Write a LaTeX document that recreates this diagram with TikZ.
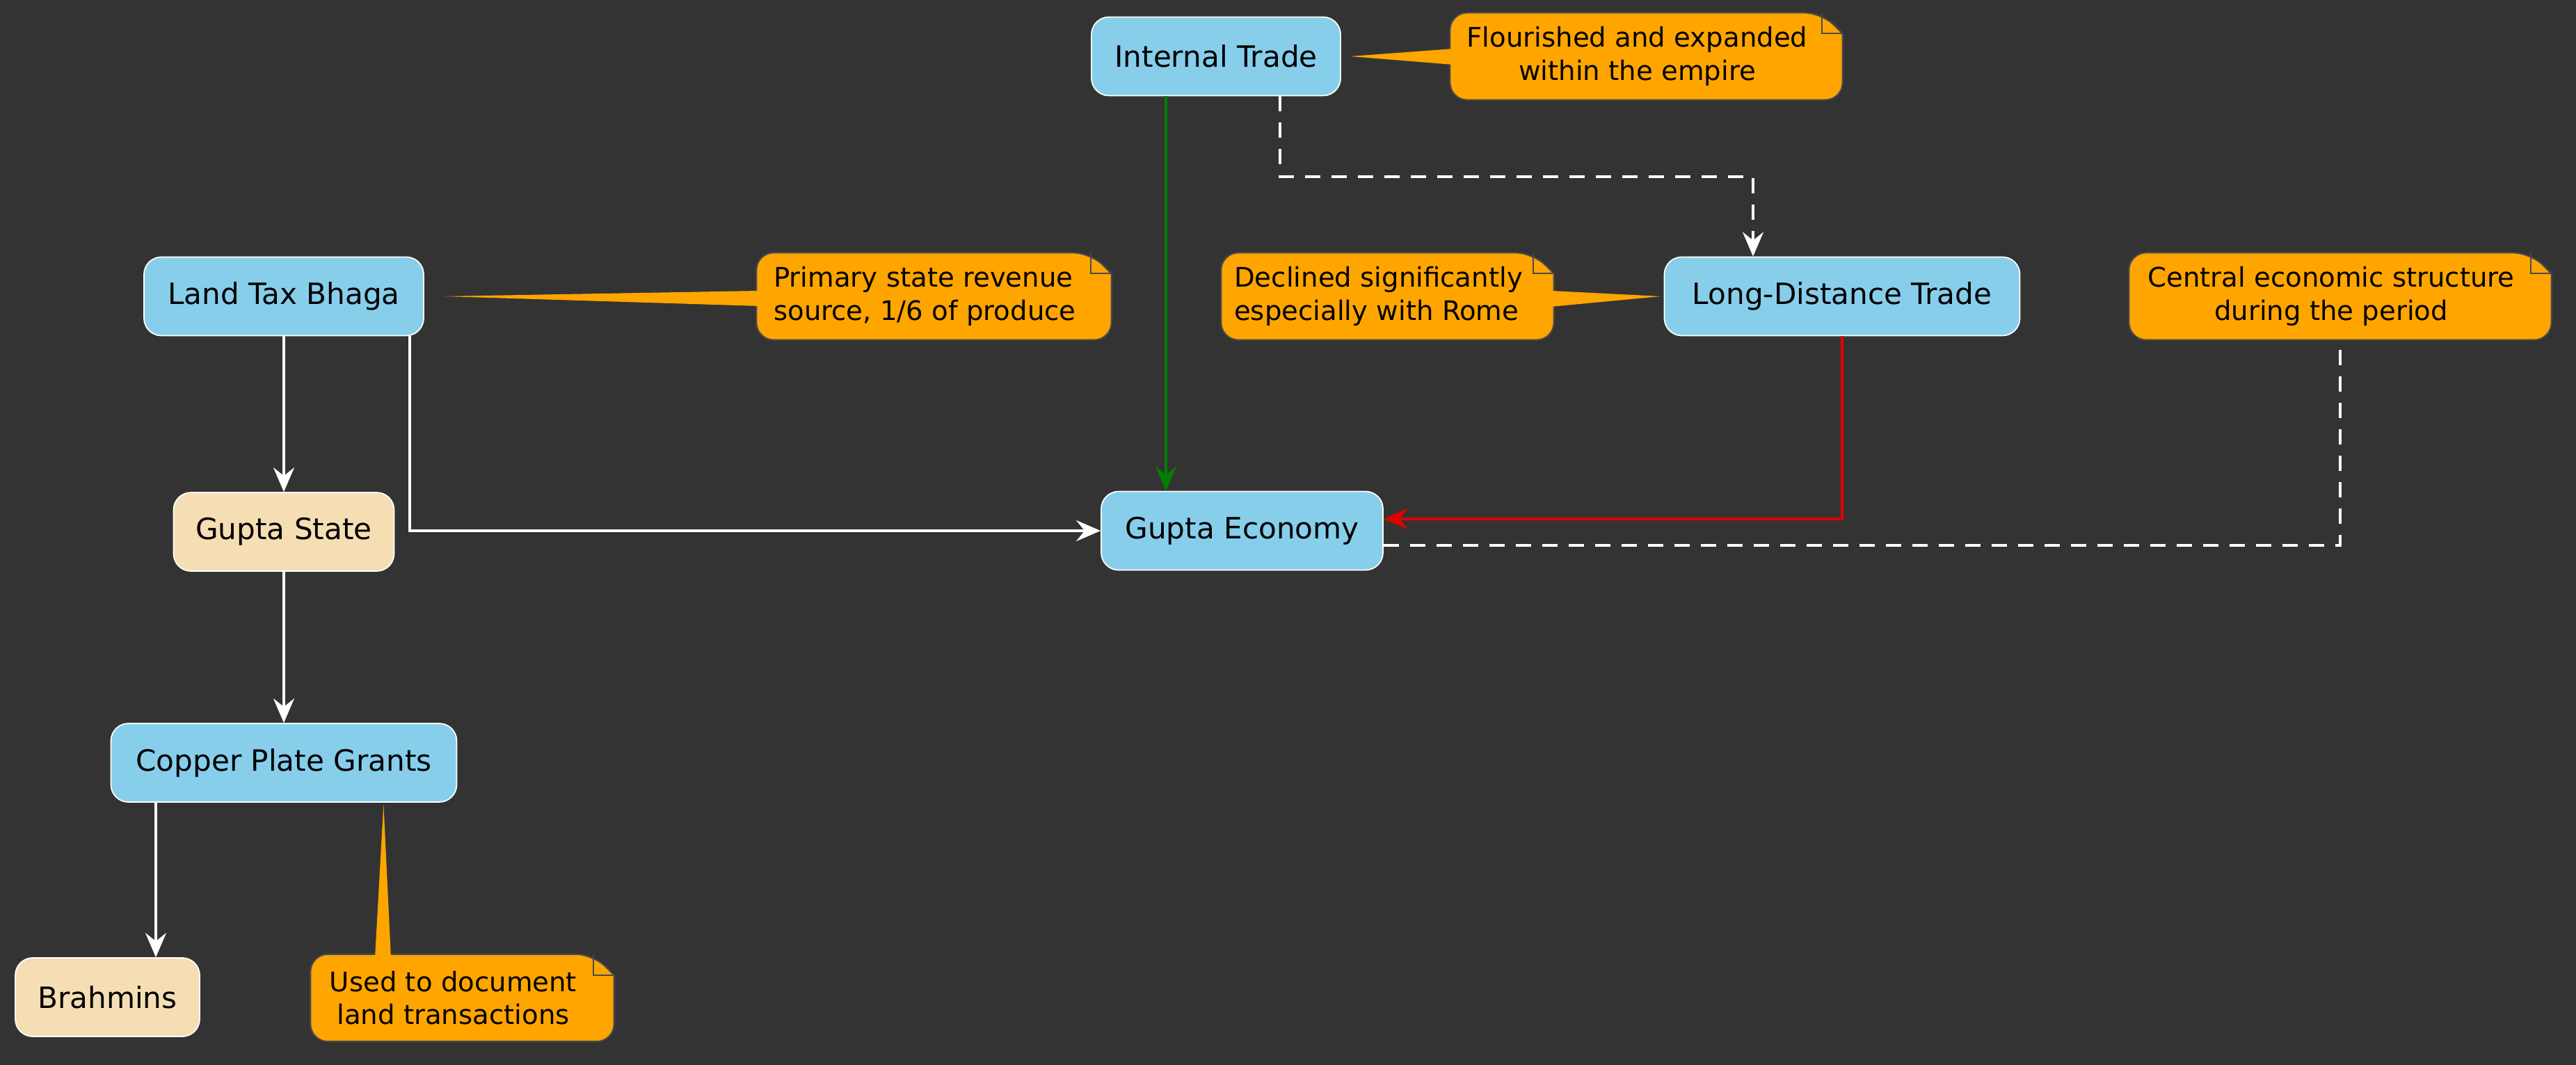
\documentclass[tikz,border=0pt]{standalone}
\usepackage{fontspec}
\setmainfont{DejaVu Sans}
\usetikzlibrary{arrows.meta, positioning}
\definecolor{canvas}{HTML}{333333}
\definecolor{skyfill}{HTML}{87CEEB}
\definecolor{wheatfill}{HTML}{F5DEB3}
\definecolor{notefill}{HTML}{FFA500}
\definecolor{noteline}{HTML}{4A4A4A}
\definecolor{tradegreen}{HTML}{008000}
\definecolor{tradered}{HTML}{E00000}
\pgfdeclarelayer{bg}
\pgfdeclarelayer{notebg}
\pgfsetlayers{bg,notebg,main}
\tikzset{
    topic/.style={
        rectangle, draw=white, line width=0.5pt, rounded corners=0.25cm,
        minimum height=1.13cm, inner sep=0pt,
        fill=skyfill, font=\fontsize{12}{14}\selectfont
    },
    group/.style={topic, fill=wheatfill},
    note/.style={
        rectangle, inner sep=0pt, minimum height=1.24cm,
        font=\fontsize{11}{13.6}\selectfont
    },
    flow/.style={draw=white, line width=1.15pt, -{Stealth[length=0.35cm, width=0.3cm, inset=0.12cm]}},
    dashflow/.style={flow, dash pattern=on 0.22cm off 0.16cm},
    link/.style={draw=white, line width=1.15pt, dash pattern=on 0.22cm off 0.16cm}
}
% note paper: the fold sits in an extra 0.26cm on the right of the text node
\newcommand{\notepaper}[1]{%
    \filldraw[fill=notefill, draw=noteline, line width=0.6pt, rounded corners=0.25cm]
        (#1.south west) -- (#1.north west) -- ([xshift=-0.04cm]#1.north east) [sharp corners]
        -- ([xshift=0.26cm, yshift=-0.3cm]#1.north east) [rounded corners=0.25cm] -- ([xshift=0.26cm]#1.south east) -- cycle;
    \draw[noteline, line width=0.6pt] ([xshift=-0.04cm]#1.north east) |- ([xshift=0.26cm, yshift=-0.3cm]#1.north east);
}

\begin{document}
\begin{tikzpicture}

% Canvas
\useasboundingbox (0,0) rectangle (37.03,-15.31);
\begin{pgfonlayer}{bg}
\fill[canvas] (0,0) rectangle (37.03,-15.31);
\end{pgfonlayer}

% Trade (top)
\node[topic, minimum width=3.58cm] (inttrade) at (17.48,-0.81) {Internal Trade};
\node[topic, minimum width=5.11cm] (ldtrade) at (26.48,-4.26) {Long-Distance Trade};

% Revenue and state (left)
\node[topic, minimum width=4.02cm] (landtax) at (4.08,-4.26) {Land Tax Bhaga};
\node[group, minimum width=3.17cm] (guptastate) at (4.08,-7.645) {Gupta State};
\node[topic, minimum width=4.97cm] (copper) at (4.08,-10.965) {Copper Plate Grants};
\node[group, minimum width=2.65cm] (brahmins) at (1.545,-14.335) {Brahmins};

% Economy (center)
\node[topic, minimum width=4.05cm] (guptaecon) at (17.855,-7.63) {Gupta Economy};

% Notes
\node[note, minimum width=5.37cm, align=center] (inttradenote) at (23.535,-0.81) {Flourished and expanded\\within the empire};
\node[note, minimum width=4.83cm, align=left] (landtaxnote) at (13.295,-4.26) {Primary state revenue\\source, 1/6 of produce};
\node[note, minimum width=4.51cm, align=left] (ldtradenote) at (19.815,-4.26) {Declined significantly\\especially with Rome};
\node[note, minimum width=5.80cm, align=center] (economynote) at (33.51,-4.26) {Central economic structure\\during the period};
\node[note, minimum width=4.09cm, align=center] (coppernote) at (6.515,-14.345) {Used to document\\land transactions};

\begin{pgfonlayer}{notebg}
\notepaper{inttradenote}
\notepaper{landtaxnote}
\notepaper{ldtradenote}
\notepaper{economynote}
\notepaper{coppernote}
% note tails
\fill[notefill] ([xshift=0.05cm, yshift=0.11cm]inttradenote.west) -- ([xshift=0.13cm]inttrade.east) -- ([xshift=0.05cm, yshift=-0.12cm]inttradenote.west) -- cycle;
\fill[notefill] ([xshift=0.05cm, yshift=0.08cm]landtaxnote.west) -- ([xshift=0.29cm]landtax.east) -- ([xshift=0.05cm, yshift=-0.14cm]landtaxnote.west) -- cycle;
\fill[notefill] ([xshift=0.21cm, yshift=0.08cm]ldtradenote.east) -- ([xshift=-0.04cm]ldtrade.west) -- ([xshift=0.21cm, yshift=-0.15cm]ldtradenote.east) -- cycle;
\fill[notefill] ([xshift=-1.125cm, yshift=-0.05cm]coppernote.north) -- ([xshift=-1.06cm, yshift=-0.02cm]copper.south east) -- ([xshift=-0.895cm, yshift=-0.05cm]coppernote.north) -- cycle;
\end{pgfonlayer}

% Connections
\draw[flow] (landtax) -- (guptastate);
\draw[flow] ([xshift=-0.21cm]landtax.south east) |- (guptaecon.west);
\draw[flow] (guptastate) -- (copper);
\draw[flow] ([xshift=-1.84cm]copper.south) -- ([xshift=-1.84cm]copper.south |- brahmins.north);
\draw[flow, draw=tradegreen] ([xshift=-0.72cm]inttrade.south) -- ([xshift=-0.72cm]inttrade.south |- guptaecon.north);
\draw[dashflow] ([xshift=0.92cm]inttrade.south) -- ++(0,-1.16) -| ([xshift=-1.28cm]ldtrade.north);
\draw[flow, draw=tradered, line width=1.3pt] (ldtrade.south) |- ([yshift=0.17cm]guptaecon.east);
\draw[link] ([yshift=-0.21cm]guptaecon.east) -| ([xshift=0.13cm]economynote.south);

\end{tikzpicture}
\end{document}
